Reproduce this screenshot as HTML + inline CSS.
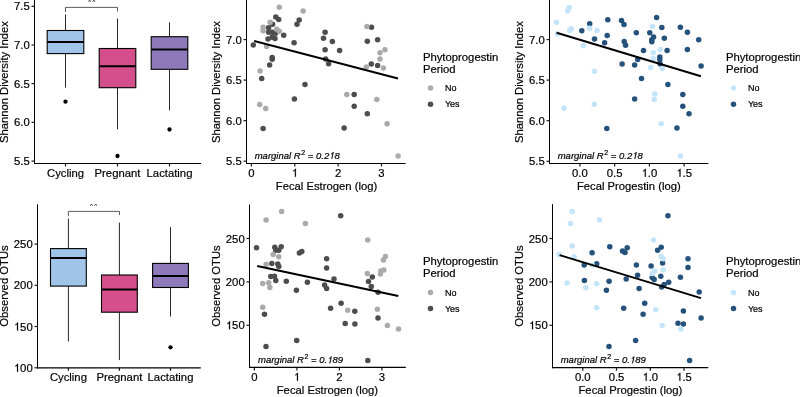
<!DOCTYPE html>
<html><head><meta charset="utf-8"><style>
html,body{margin:0;padding:0;background:#fff;width:800px;height:397px;overflow:hidden}
svg{display:block;font-family:"Liberation Sans", sans-serif}
svg{will-change:transform}
text{stroke:#000;stroke-width:0.2px;stroke-linejoin:round}
.o{fill-opacity:0;stroke-opacity:0}
</style></head><body>
<svg width="800" height="397" viewBox="0 0 800 397">
<rect width="800" height="397" fill="#fff"/>
<line x1="31.5" y1="6.3" x2="34.5" y2="6.3" stroke="#1a1a1a" stroke-width="1.2" />
<text x="29.7" y="10.35" font-size="11.3" text-anchor="end" fill="#000"  >7.5</text>
<line x1="31.5" y1="45.0" x2="34.5" y2="45.0" stroke="#1a1a1a" stroke-width="1.2" />
<text x="29.7" y="49.05" font-size="11.3" text-anchor="end" fill="#000"  >7.0</text>
<line x1="31.5" y1="83.6" x2="34.5" y2="83.6" stroke="#1a1a1a" stroke-width="1.2" />
<text x="29.7" y="87.64999999999999" font-size="11.3" text-anchor="end" fill="#000"  >6.5</text>
<line x1="31.5" y1="122.3" x2="34.5" y2="122.3" stroke="#1a1a1a" stroke-width="1.2" />
<text x="29.7" y="126.35" font-size="11.3" text-anchor="end" fill="#000"  >6.0</text>
<line x1="31.5" y1="161.1" x2="34.5" y2="161.1" stroke="#1a1a1a" stroke-width="1.2" />
<text x="29.7" y="165.15" font-size="11.3" text-anchor="end" fill="#000"  >5.5</text>
<line x1="65.5" y1="14.5" x2="65.5" y2="30.5" stroke="#262626" stroke-width="1" />
<line x1="65.5" y1="53.6" x2="65.5" y2="87.6" stroke="#262626" stroke-width="1" />
<rect x="47.2" y="30.5" width="36.6" height="23.1" fill="#a0c5e9" stroke="#000" stroke-width="1.1"/>
<line x1="47.2" y1="42.0" x2="83.8" y2="42.0" stroke="#000" stroke-width="2" />
<circle cx="65.5" cy="101.7" r="2.15" fill="#000"/>
<line x1="117.5" y1="18.5" x2="117.5" y2="48.5" stroke="#262626" stroke-width="1" />
<line x1="117.5" y1="87.7" x2="117.5" y2="129.3" stroke="#262626" stroke-width="1" />
<rect x="99.2" y="48.5" width="36.6" height="39.2" fill="#d54f8d" stroke="#000" stroke-width="1.1"/>
<line x1="99.2" y1="66.3" x2="135.8" y2="66.3" stroke="#000" stroke-width="2" />
<circle cx="117.5" cy="156.0" r="2.15" fill="#000"/>
<line x1="169.5" y1="22.4" x2="169.5" y2="36.7" stroke="#262626" stroke-width="1" />
<line x1="169.5" y1="69.3" x2="169.5" y2="110.4" stroke="#262626" stroke-width="1" />
<rect x="151.2" y="36.7" width="36.6" height="32.599999999999994" fill="#8e7abb" stroke="#000" stroke-width="1.1"/>
<line x1="151.2" y1="49.6" x2="187.8" y2="49.6" stroke="#000" stroke-width="2" />
<circle cx="169.5" cy="129.5" r="2.15" fill="#000"/>
<polyline points="65.5,12.0 65.5,7.4 117.5,7.4 117.5,11.5" fill="none" stroke="#333" stroke-width="0.8"/>
<line x1="65.5" y1="163.5" x2="65.5" y2="166.5" stroke="#1a1a1a" stroke-width="1.2" />
<line x1="117.5" y1="163.5" x2="117.5" y2="166.5" stroke="#1a1a1a" stroke-width="1.2" />
<line x1="169.5" y1="163.5" x2="169.5" y2="166.5" stroke="#1a1a1a" stroke-width="1.2" />
<text x="65.5" y="176.5" font-size="11.3" text-anchor="middle" fill="#000"  >Cycling</text>
<text x="117.5" y="176.5" font-size="11.3" text-anchor="middle" fill="#000"  >Pregnant</text>
<text x="169.5" y="176.5" font-size="11.3" text-anchor="middle" fill="#000"  >Lactating</text>
<line x1="34.5" y1="0" x2="34.5" y2="164.0" stroke="#000" stroke-width="1.05" />
<line x1="34.0" y1="163.5" x2="201.1" y2="163.5" stroke="#000" stroke-width="1.0" />
<text transform="translate(8.1,82.1) rotate(-90)" font-size="11.25" text-anchor="middle" fill="#000">Shannon Diversity Index</text>
<g clip-path="url(#clip0)"><text x="91.8" y="5.5" font-size="11" text-anchor="middle" fill="#3a3a3a" style="stroke:none">**</text></g>
<clipPath id="clip0"><rect x="0" y="0.0" width="800" height="200"/></clipPath>
<line x1="34.5" y1="367.8" x2="37.5" y2="367.8" stroke="#1a1a1a" stroke-width="1.2" />
<text x="32.7" y="371.85" font-size="11.3" text-anchor="end" fill="#000"  ><tspan class="o">1</tspan>00</text>
<line x1="34.5" y1="326.5" x2="37.5" y2="326.5" stroke="#1a1a1a" stroke-width="1.2" />
<text x="32.7" y="330.55" font-size="11.3" text-anchor="end" fill="#000"  ><tspan class="o">1</tspan>50</text>
<line x1="34.5" y1="285.3" x2="37.5" y2="285.3" stroke="#1a1a1a" stroke-width="1.2" />
<text x="32.7" y="289.35" font-size="11.3" text-anchor="end" fill="#000"  >200</text>
<line x1="34.5" y1="244.1" x2="37.5" y2="244.1" stroke="#1a1a1a" stroke-width="1.2" />
<text x="32.7" y="248.15" font-size="11.3" text-anchor="end" fill="#000"  >250</text>
<line x1="68.4" y1="218.4" x2="68.4" y2="248.6" stroke="#262626" stroke-width="1" />
<line x1="68.4" y1="286.1" x2="68.4" y2="341.5" stroke="#262626" stroke-width="1" />
<rect x="50.50000000000001" y="248.6" width="35.8" height="37.50000000000003" fill="#a0c5e9" stroke="#000" stroke-width="1.1"/>
<line x1="50.50000000000001" y1="257.9" x2="86.30000000000001" y2="257.9" stroke="#000" stroke-width="2" />
<line x1="119.4" y1="222.6" x2="119.4" y2="275.0" stroke="#262626" stroke-width="1" />
<line x1="119.4" y1="312.2" x2="119.4" y2="360.1" stroke="#262626" stroke-width="1" />
<rect x="101.5" y="275.0" width="35.8" height="37.19999999999999" fill="#d54f8d" stroke="#000" stroke-width="1.1"/>
<line x1="101.5" y1="289.6" x2="137.3" y2="289.6" stroke="#000" stroke-width="2" />
<line x1="170.5" y1="227.1" x2="170.5" y2="263.4" stroke="#262626" stroke-width="1" />
<line x1="170.5" y1="287.5" x2="170.5" y2="316.5" stroke="#262626" stroke-width="1" />
<rect x="152.6" y="263.4" width="35.8" height="24.100000000000023" fill="#8e7abb" stroke="#000" stroke-width="1.1"/>
<line x1="152.6" y1="276.0" x2="188.4" y2="276.0" stroke="#000" stroke-width="2" />
<circle cx="170.5" cy="347.3" r="2.15" fill="#000"/>
<polyline points="68.4,216.2 68.4,211.4 119.5,211.4 119.5,215.0" fill="none" stroke="#333" stroke-width="0.8"/>
<line x1="68.4" y1="367.8" x2="68.4" y2="370.8" stroke="#1a1a1a" stroke-width="1.2" />
<line x1="119.4" y1="367.8" x2="119.4" y2="370.8" stroke="#1a1a1a" stroke-width="1.2" />
<line x1="170.5" y1="367.8" x2="170.5" y2="370.8" stroke="#1a1a1a" stroke-width="1.2" />
<text x="68.4" y="380.6" font-size="11.3" text-anchor="middle" fill="#000"  >Cycling</text>
<text x="119.4" y="380.6" font-size="11.3" text-anchor="middle" fill="#000"  >Pregnant</text>
<text x="170.5" y="380.6" font-size="11.3" text-anchor="middle" fill="#000"  >Lactating</text>
<line x1="37.5" y1="204.4" x2="37.5" y2="368.3" stroke="#000" stroke-width="1.05" />
<line x1="37.0" y1="367.8" x2="200.8" y2="367.8" stroke="#000" stroke-width="1.2" />
<text transform="translate(8.1,286.0) rotate(-90)" font-size="11.25" text-anchor="middle" fill="#000">Observed OTUs</text>
<g clip-path="url(#clip204)"><text x="93.6" y="209.8" font-size="11" text-anchor="middle" fill="#3a3a3a" style="stroke:none">**</text></g>
<clipPath id="clip204"><rect x="0" y="204.0" width="800" height="200"/></clipPath>
<line x1="243.5" y1="39.6" x2="246.5" y2="39.6" stroke="#1a1a1a" stroke-width="1.2" />
<text x="241.7" y="43.65" font-size="11.3" text-anchor="end" fill="#000"  >7.0</text>
<line x1="243.5" y1="80.1" x2="246.5" y2="80.1" stroke="#1a1a1a" stroke-width="1.2" />
<text x="241.7" y="84.14999999999999" font-size="11.3" text-anchor="end" fill="#000"  >6.5</text>
<line x1="243.5" y1="120.7" x2="246.5" y2="120.7" stroke="#1a1a1a" stroke-width="1.2" />
<text x="241.7" y="124.75" font-size="11.3" text-anchor="end" fill="#000"  >6.0</text>
<line x1="243.5" y1="161.2" x2="246.5" y2="161.2" stroke="#1a1a1a" stroke-width="1.2" />
<text x="241.7" y="165.25" font-size="11.3" text-anchor="end" fill="#000"  >5.5</text>
<line x1="251.4" y1="163.5" x2="251.4" y2="166.5" stroke="#1a1a1a" stroke-width="1.2" />
<text x="251.4" y="176.8" font-size="11.3" text-anchor="middle" fill="#000"  >0</text>
<line x1="294.8" y1="163.5" x2="294.8" y2="166.5" stroke="#1a1a1a" stroke-width="1.2" />
<text x="294.8" y="176.8" font-size="11.3" text-anchor="middle" fill="#000"  ><tspan class="o">1</tspan></text>
<line x1="338.1" y1="163.5" x2="338.1" y2="166.5" stroke="#1a1a1a" stroke-width="1.2" />
<text x="338.1" y="176.8" font-size="11.3" text-anchor="middle" fill="#000"  >2</text>
<line x1="381.5" y1="163.5" x2="381.5" y2="166.5" stroke="#1a1a1a" stroke-width="1.2" />
<text x="381.5" y="176.8" font-size="11.3" text-anchor="middle" fill="#000"  >3</text>
<circle cx="275.8" cy="17.1" r="2.75" fill="#4d4d4d"/>
<circle cx="278.7" cy="19.6" r="2.75" fill="#4d4d4d"/>
<circle cx="272.6" cy="24.2" r="2.75" fill="#4d4d4d"/>
<circle cx="268.6" cy="27.7" r="2.75" fill="#4d4d4d"/>
<circle cx="268.6" cy="32.2" r="2.75" fill="#4d4d4d"/>
<circle cx="272.1" cy="32.2" r="2.75" fill="#4d4d4d"/>
<circle cx="275.6" cy="33.2" r="2.75" fill="#4d4d4d"/>
<circle cx="283.7" cy="35.3" r="2.75" fill="#4d4d4d"/>
<circle cx="297" cy="24.2" r="2.75" fill="#4d4d4d"/>
<circle cx="299.2" cy="20.1" r="2.75" fill="#4d4d4d"/>
<circle cx="268" cy="39" r="2.75" fill="#4d4d4d"/>
<circle cx="272" cy="37.3" r="2.75" fill="#4d4d4d"/>
<circle cx="275" cy="38.6" r="2.75" fill="#4d4d4d"/>
<circle cx="294.1" cy="42.8" r="2.75" fill="#4d4d4d"/>
<circle cx="253.3" cy="45" r="2.75" fill="#4d4d4d"/>
<circle cx="272.2" cy="57.4" r="2.75" fill="#4d4d4d"/>
<circle cx="272.2" cy="59.2" r="2.75" fill="#4d4d4d"/>
<circle cx="269.6" cy="65.1" r="2.75" fill="#4d4d4d"/>
<circle cx="261.7" cy="78.6" r="2.75" fill="#4d4d4d"/>
<circle cx="305" cy="84.4" r="2.75" fill="#4d4d4d"/>
<circle cx="294.4" cy="99.1" r="2.75" fill="#4d4d4d"/>
<circle cx="263.1" cy="128.4" r="2.75" fill="#4d4d4d"/>
<circle cx="325.1" cy="32.3" r="2.75" fill="#4d4d4d"/>
<circle cx="323.5" cy="38.2" r="2.75" fill="#4d4d4d"/>
<circle cx="332.4" cy="41.4" r="2.75" fill="#4d4d4d"/>
<circle cx="325.1" cy="49.8" r="2.75" fill="#4d4d4d"/>
<circle cx="339.6" cy="50.6" r="2.75" fill="#4d4d4d"/>
<circle cx="325.7" cy="59" r="2.75" fill="#4d4d4d"/>
<circle cx="328.6" cy="63.8" r="2.75" fill="#4d4d4d"/>
<circle cx="371.5" cy="27.2" r="2.75" fill="#4d4d4d"/>
<circle cx="367.3" cy="41.3" r="2.75" fill="#4d4d4d"/>
<circle cx="377.6" cy="39.7" r="2.75" fill="#4d4d4d"/>
<circle cx="371.3" cy="64.1" r="2.75" fill="#4d4d4d"/>
<circle cx="377.6" cy="65.5" r="2.75" fill="#4d4d4d"/>
<circle cx="354.2" cy="94.5" r="2.75" fill="#4d4d4d"/>
<circle cx="354.2" cy="106.2" r="2.75" fill="#4d4d4d"/>
<circle cx="367.3" cy="113.7" r="2.75" fill="#4d4d4d"/>
<circle cx="344.1" cy="128" r="2.75" fill="#4d4d4d"/>
<circle cx="279.2" cy="7.3" r="2.75" fill="#aaaaaa"/>
<circle cx="303.1" cy="10.9" r="2.75" fill="#aaaaaa"/>
<circle cx="270.1" cy="22.2" r="2.75" fill="#aaaaaa"/>
<circle cx="263.1" cy="27.2" r="2.75" fill="#aaaaaa"/>
<circle cx="263.1" cy="30.7" r="2.75" fill="#aaaaaa"/>
<circle cx="276.7" cy="29.2" r="2.75" fill="#aaaaaa"/>
<circle cx="279.2" cy="31.2" r="2.75" fill="#aaaaaa"/>
<circle cx="266.7" cy="46.5" r="2.75" fill="#aaaaaa"/>
<circle cx="260.1" cy="71.1" r="2.75" fill="#aaaaaa"/>
<circle cx="259.7" cy="104.4" r="2.75" fill="#aaaaaa"/>
<circle cx="265.7" cy="108.4" r="2.75" fill="#aaaaaa"/>
<circle cx="366.9" cy="26.6" r="2.75" fill="#aaaaaa"/>
<circle cx="385" cy="49.8" r="2.75" fill="#aaaaaa"/>
<circle cx="380" cy="52.8" r="2.75" fill="#aaaaaa"/>
<circle cx="380" cy="59" r="2.75" fill="#aaaaaa"/>
<circle cx="383.4" cy="68.1" r="2.75" fill="#aaaaaa"/>
<circle cx="366.3" cy="66.9" r="2.75" fill="#aaaaaa"/>
<circle cx="346.8" cy="94.5" r="2.75" fill="#aaaaaa"/>
<circle cx="376.8" cy="99.5" r="2.75" fill="#aaaaaa"/>
<circle cx="387.1" cy="123.7" r="2.75" fill="#aaaaaa"/>
<circle cx="398.1" cy="156" r="2.75" fill="#aaaaaa"/>
<line x1="254.1" y1="41.0" x2="398.0" y2="78.5" stroke="#000" stroke-width="2.0" stroke-linecap="butt"/>
<line x1="246.5" y1="0" x2="246.5" y2="164.0" stroke="#000" stroke-width="1.05" />
<line x1="246.0" y1="163.5" x2="405.6" y2="163.5" stroke="#000" stroke-width="1.0" />
<text transform="translate(220.3,82.1) rotate(-90)" font-size="11.25" text-anchor="middle" fill="#000">Shannon Diversity Index</text>
<text x="326.5" y="190.3" font-size="11.25" text-anchor="middle" fill="#000"  >Fecal Estrogen (log)</text>
<text x="254.7" y="158.7" font-size="9.5" font-style="italic" fill="#000">marginal R<tspan dx="0.6" dy="-4.2" font-size="7" font-style="normal">2</tspan><tspan dy="4.2"> = 0.2<tspan class="o">1</tspan>8</tspan></text>
<text x="422.9" y="60.6" font-size="11.3" text-anchor="start" fill="#000"  >Phytoprogestin</text>
<text x="422.9" y="72.6" font-size="11.3" text-anchor="start" fill="#000"  >Period</text>
<circle cx="430.5" cy="88.1" r="2.75" fill="#aaaaaa"/>
<circle cx="430.5" cy="104.30000000000001" r="2.75" fill="#4d4d4d"/>
<text x="444.9" y="91.2" font-size="9.0" text-anchor="start" fill="#000"  >No</text>
<text x="444.9" y="107.2" font-size="9.0" text-anchor="start" fill="#000"  >Yes</text>
<line x1="546.5" y1="39.6" x2="549.5" y2="39.6" stroke="#1a1a1a" stroke-width="1.2" />
<text x="544.7" y="43.65" font-size="11.3" text-anchor="end" fill="#000"  >7.0</text>
<line x1="546.5" y1="80.1" x2="549.5" y2="80.1" stroke="#1a1a1a" stroke-width="1.2" />
<text x="544.7" y="84.14999999999999" font-size="11.3" text-anchor="end" fill="#000"  >6.5</text>
<line x1="546.5" y1="120.7" x2="549.5" y2="120.7" stroke="#1a1a1a" stroke-width="1.2" />
<text x="544.7" y="124.75" font-size="11.3" text-anchor="end" fill="#000"  >6.0</text>
<line x1="546.5" y1="161.3" x2="549.5" y2="161.3" stroke="#1a1a1a" stroke-width="1.2" />
<text x="544.7" y="165.35000000000002" font-size="11.3" text-anchor="end" fill="#000"  >5.5</text>
<line x1="579.9" y1="163.5" x2="579.9" y2="166.5" stroke="#1a1a1a" stroke-width="1.2" />
<text x="579.9" y="176.8" font-size="11.3" text-anchor="middle" fill="#000"  >0.0</text>
<line x1="614.65" y1="163.5" x2="614.65" y2="166.5" stroke="#1a1a1a" stroke-width="1.2" />
<text x="614.65" y="176.8" font-size="11.3" text-anchor="middle" fill="#000"  >0.5</text>
<line x1="649.4" y1="163.5" x2="649.4" y2="166.5" stroke="#1a1a1a" stroke-width="1.2" />
<text x="649.4" y="176.8" font-size="11.3" text-anchor="middle" fill="#000"  ><tspan class="o">1</tspan>.0</text>
<line x1="684.15" y1="163.5" x2="684.15" y2="166.5" stroke="#1a1a1a" stroke-width="1.2" />
<text x="684.15" y="176.8" font-size="11.3" text-anchor="middle" fill="#000"  ><tspan class="o">1</tspan>.5</text>
<circle cx="581.8" cy="30.8" r="2.75" fill="#25527c"/>
<circle cx="589.7" cy="23.8" r="2.75" fill="#25527c"/>
<circle cx="607.8" cy="19.7" r="2.75" fill="#25527c"/>
<circle cx="621.5" cy="20.6" r="2.75" fill="#25527c"/>
<circle cx="624" cy="24.6" r="2.75" fill="#25527c"/>
<circle cx="594.5" cy="38.9" r="2.75" fill="#25527c"/>
<circle cx="607.2" cy="35.5" r="2.75" fill="#25527c"/>
<circle cx="604.6" cy="42.7" r="2.75" fill="#25527c"/>
<circle cx="624.2" cy="41.5" r="2.75" fill="#25527c"/>
<circle cx="625.6" cy="45.3" r="2.75" fill="#25527c"/>
<circle cx="622.1" cy="63.9" r="2.75" fill="#25527c"/>
<circle cx="656.6" cy="17.5" r="2.75" fill="#25527c"/>
<circle cx="661.8" cy="27.6" r="2.75" fill="#25527c"/>
<circle cx="680.4" cy="27.2" r="2.75" fill="#25527c"/>
<circle cx="687.4" cy="32.2" r="2.75" fill="#25527c"/>
<circle cx="636.3" cy="32.8" r="2.75" fill="#25527c"/>
<circle cx="649.8" cy="32.8" r="2.75" fill="#25527c"/>
<circle cx="653.6" cy="36.9" r="2.75" fill="#25527c"/>
<circle cx="651.8" cy="39.7" r="2.75" fill="#25527c"/>
<circle cx="651.8" cy="41.7" r="2.75" fill="#25527c"/>
<circle cx="664.3" cy="38.3" r="2.75" fill="#25527c"/>
<circle cx="698.7" cy="39.7" r="2.75" fill="#25527c"/>
<circle cx="643.5" cy="50.4" r="2.75" fill="#25527c"/>
<circle cx="667.1" cy="50.6" r="2.75" fill="#25527c"/>
<circle cx="687.4" cy="49.6" r="2.75" fill="#25527c"/>
<circle cx="659.8" cy="57" r="2.75" fill="#25527c"/>
<circle cx="659.8" cy="59.8" r="2.75" fill="#25527c"/>
<circle cx="660.2" cy="64.1" r="2.75" fill="#25527c"/>
<circle cx="637.7" cy="59.4" r="2.75" fill="#25527c"/>
<circle cx="634.6" cy="65.1" r="2.75" fill="#25527c"/>
<circle cx="701.1" cy="65.9" r="2.75" fill="#25527c"/>
<circle cx="641.5" cy="78.6" r="2.75" fill="#25527c"/>
<circle cx="606.8" cy="128.4" r="2.75" fill="#25527c"/>
<circle cx="667.9" cy="84.6" r="2.75" fill="#25527c"/>
<circle cx="634.6" cy="99.1" r="2.75" fill="#25527c"/>
<circle cx="682.8" cy="94.5" r="2.75" fill="#25527c"/>
<circle cx="682.8" cy="106.2" r="2.75" fill="#25527c"/>
<circle cx="689" cy="113.7" r="2.75" fill="#25527c"/>
<circle cx="677" cy="128" r="2.75" fill="#25527c"/>
<circle cx="569.2" cy="7.5" r="2.75" fill="#c4e4f9"/>
<circle cx="567.7" cy="11.1" r="2.75" fill="#c4e4f9"/>
<circle cx="556.5" cy="22.2" r="2.75" fill="#c4e4f9"/>
<circle cx="557.5" cy="33.9" r="2.75" fill="#c4e4f9"/>
<circle cx="569.8" cy="30.6" r="2.75" fill="#c4e4f9"/>
<circle cx="571.2" cy="28.8" r="2.75" fill="#c4e4f9"/>
<circle cx="589.7" cy="28.2" r="2.75" fill="#c4e4f9"/>
<circle cx="597" cy="30.6" r="2.75" fill="#c4e4f9"/>
<circle cx="583.3" cy="45.5" r="2.75" fill="#c4e4f9"/>
<circle cx="594.5" cy="71.3" r="2.75" fill="#c4e4f9"/>
<circle cx="652.6" cy="26.6" r="2.75" fill="#c4e4f9"/>
<circle cx="660.2" cy="49.6" r="2.75" fill="#c4e4f9"/>
<circle cx="653.2" cy="52.8" r="2.75" fill="#c4e4f9"/>
<circle cx="653.2" cy="58.8" r="2.75" fill="#c4e4f9"/>
<circle cx="650.6" cy="67.5" r="2.75" fill="#c4e4f9"/>
<circle cx="662.2" cy="68.5" r="2.75" fill="#c4e4f9"/>
<circle cx="564.1" cy="108.2" r="2.75" fill="#c4e4f9"/>
<circle cx="594.3" cy="104.2" r="2.75" fill="#c4e4f9"/>
<circle cx="654.8" cy="94.1" r="2.75" fill="#c4e4f9"/>
<circle cx="654.2" cy="99.5" r="2.75" fill="#c4e4f9"/>
<circle cx="661.2" cy="123.7" r="2.75" fill="#c4e4f9"/>
<circle cx="680.4" cy="156" r="2.75" fill="#c4e4f9"/>
<line x1="556.6" y1="32.8" x2="700.9" y2="76.3" stroke="#000" stroke-width="2.0" stroke-linecap="butt"/>
<line x1="549.5" y1="0" x2="549.5" y2="164.0" stroke="#000" stroke-width="1.05" />
<line x1="549.0" y1="163.5" x2="708.4" y2="163.5" stroke="#000" stroke-width="1.0" />
<text transform="translate(523.1,82.1) rotate(-90)" font-size="11.25" text-anchor="middle" fill="#000">Shannon Diversity Index</text>
<text x="628.8" y="190.3" font-size="11.25" text-anchor="middle" fill="#000"  >Fecal Progestin (log)</text>
<text x="557.7" y="158.7" font-size="9.5" font-style="italic" fill="#000">marginal R<tspan dx="0.6" dy="-4.2" font-size="7" font-style="normal">2</tspan><tspan dy="4.2"> = 0.2<tspan class="o">1</tspan>8</tspan></text>
<text x="725.9" y="60.6" font-size="11.3" text-anchor="start" fill="#000"  >Phytoprogestin</text>
<text x="725.9" y="72.6" font-size="11.3" text-anchor="start" fill="#000"  >Period</text>
<circle cx="733.5" cy="88.1" r="2.75" fill="#c4e4f9"/>
<circle cx="733.5" cy="104.30000000000001" r="2.75" fill="#25527c"/>
<text x="747.9" y="91.2" font-size="9.0" text-anchor="start" fill="#000"  >No</text>
<text x="747.9" y="107.2" font-size="9.0" text-anchor="start" fill="#000"  >Yes</text>
<line x1="246.5" y1="238.5" x2="249.5" y2="238.5" stroke="#1a1a1a" stroke-width="1.2" />
<text x="244.7" y="242.55" font-size="11.3" text-anchor="end" fill="#000"  >250</text>
<line x1="246.5" y1="281.9" x2="249.5" y2="281.9" stroke="#1a1a1a" stroke-width="1.2" />
<text x="244.7" y="285.95" font-size="11.3" text-anchor="end" fill="#000"  >200</text>
<line x1="246.5" y1="325.3" x2="249.5" y2="325.3" stroke="#1a1a1a" stroke-width="1.2" />
<text x="244.7" y="329.35" font-size="11.3" text-anchor="end" fill="#000"  ><tspan class="o">1</tspan>50</text>
<line x1="254.4" y1="367.4" x2="254.4" y2="370.4" stroke="#1a1a1a" stroke-width="1.2" />
<text x="254.4" y="380.8" font-size="11.3" text-anchor="middle" fill="#000"  >0</text>
<line x1="296.9" y1="367.4" x2="296.9" y2="370.4" stroke="#1a1a1a" stroke-width="1.2" />
<text x="296.9" y="380.8" font-size="11.3" text-anchor="middle" fill="#000"  ><tspan class="o">1</tspan></text>
<line x1="339.4" y1="367.4" x2="339.4" y2="370.4" stroke="#1a1a1a" stroke-width="1.2" />
<text x="339.4" y="380.8" font-size="11.3" text-anchor="middle" fill="#000"  >2</text>
<line x1="381.9" y1="367.4" x2="381.9" y2="370.4" stroke="#1a1a1a" stroke-width="1.2" />
<text x="381.9" y="380.8" font-size="11.3" text-anchor="middle" fill="#000"  >3</text>
<circle cx="256.5" cy="247.7" r="2.75" fill="#4d4d4d"/>
<circle cx="274.8" cy="247.3" r="2.75" fill="#4d4d4d"/>
<circle cx="281.2" cy="246.7" r="2.75" fill="#4d4d4d"/>
<circle cx="275.8" cy="250.3" r="2.75" fill="#4d4d4d"/>
<circle cx="278.8" cy="250.3" r="2.75" fill="#4d4d4d"/>
<circle cx="299.4" cy="253" r="2.75" fill="#4d4d4d"/>
<circle cx="301.8" cy="251.4" r="2.75" fill="#4d4d4d"/>
<circle cx="326.6" cy="258.8" r="2.75" fill="#4d4d4d"/>
<circle cx="326.6" cy="267.9" r="2.75" fill="#4d4d4d"/>
<circle cx="271.8" cy="263.4" r="2.75" fill="#4d4d4d"/>
<circle cx="277.8" cy="264.1" r="2.75" fill="#4d4d4d"/>
<circle cx="278.8" cy="266.5" r="2.75" fill="#4d4d4d"/>
<circle cx="270.8" cy="276.5" r="2.75" fill="#4d4d4d"/>
<circle cx="274.5" cy="276.2" r="2.75" fill="#4d4d4d"/>
<circle cx="275.8" cy="280.5" r="2.75" fill="#4d4d4d"/>
<circle cx="286.3" cy="281.3" r="2.75" fill="#4d4d4d"/>
<circle cx="307.4" cy="282.2" r="2.75" fill="#4d4d4d"/>
<circle cx="296.4" cy="290.2" r="2.75" fill="#4d4d4d"/>
<circle cx="324.6" cy="285.1" r="2.75" fill="#4d4d4d"/>
<circle cx="326.6" cy="288.5" r="2.75" fill="#4d4d4d"/>
<circle cx="264.5" cy="314.3" r="2.75" fill="#4d4d4d"/>
<circle cx="330.6" cy="308.3" r="2.75" fill="#4d4d4d"/>
<circle cx="296.7" cy="340.5" r="2.75" fill="#4d4d4d"/>
<circle cx="266" cy="346.5" r="2.75" fill="#4d4d4d"/>
<circle cx="340.7" cy="215.7" r="2.75" fill="#4d4d4d"/>
<circle cx="372.3" cy="277" r="2.75" fill="#4d4d4d"/>
<circle cx="368.5" cy="281.4" r="2.75" fill="#4d4d4d"/>
<circle cx="371.3" cy="286.5" r="2.75" fill="#4d4d4d"/>
<circle cx="378" cy="292.2" r="2.75" fill="#4d4d4d"/>
<circle cx="334" cy="279" r="2.75" fill="#4d4d4d"/>
<circle cx="341.1" cy="303.2" r="2.75" fill="#4d4d4d"/>
<circle cx="354.8" cy="311.3" r="2.75" fill="#4d4d4d"/>
<circle cx="345.2" cy="323.4" r="2.75" fill="#4d4d4d"/>
<circle cx="354.9" cy="324" r="2.75" fill="#4d4d4d"/>
<circle cx="378" cy="318" r="2.75" fill="#4d4d4d"/>
<circle cx="367.8" cy="360.4" r="2.75" fill="#4d4d4d"/>
<circle cx="281.6" cy="211.5" r="2.75" fill="#aaaaaa"/>
<circle cx="266.1" cy="219.9" r="2.75" fill="#aaaaaa"/>
<circle cx="305.4" cy="223.5" r="2.75" fill="#aaaaaa"/>
<circle cx="273.2" cy="254.4" r="2.75" fill="#aaaaaa"/>
<circle cx="278.8" cy="256.8" r="2.75" fill="#aaaaaa"/>
<circle cx="266.1" cy="264.5" r="2.75" fill="#aaaaaa"/>
<circle cx="262.7" cy="283.5" r="2.75" fill="#aaaaaa"/>
<circle cx="268.7" cy="282.8" r="2.75" fill="#aaaaaa"/>
<circle cx="269.8" cy="287.5" r="2.75" fill="#aaaaaa"/>
<circle cx="262.7" cy="307.3" r="2.75" fill="#aaaaaa"/>
<circle cx="367.7" cy="239.9" r="2.75" fill="#aaaaaa"/>
<circle cx="385.4" cy="256.4" r="2.75" fill="#aaaaaa"/>
<circle cx="383.4" cy="260" r="2.75" fill="#aaaaaa"/>
<circle cx="383.8" cy="269.9" r="2.75" fill="#aaaaaa"/>
<circle cx="380.8" cy="271.1" r="2.75" fill="#aaaaaa"/>
<circle cx="380.4" cy="273.9" r="2.75" fill="#aaaaaa"/>
<circle cx="367.3" cy="273.5" r="2.75" fill="#aaaaaa"/>
<circle cx="347.7" cy="310.3" r="2.75" fill="#aaaaaa"/>
<circle cx="377.4" cy="309.3" r="2.75" fill="#aaaaaa"/>
<circle cx="387.4" cy="325.5" r="2.75" fill="#aaaaaa"/>
<circle cx="398.5" cy="329" r="2.75" fill="#aaaaaa"/>
<line x1="257.1" y1="265.9" x2="398.3" y2="296.0" stroke="#000" stroke-width="2.0" stroke-linecap="butt"/>
<line x1="249.5" y1="204.5" x2="249.5" y2="367.9" stroke="#000" stroke-width="1.05" />
<line x1="249.0" y1="367.4" x2="405.8" y2="367.4" stroke="#000" stroke-width="1.2" />
<text transform="translate(220.4,286.0) rotate(-90)" font-size="11.25" text-anchor="middle" fill="#000">Observed OTUs</text>
<text x="327.4" y="394.0" font-size="11.25" text-anchor="middle" fill="#000"  >Fecal Estrogen (log)</text>
<text x="258.0" y="363.2" font-size="9.5" font-style="italic" fill="#000">marginal R<tspan dx="0.6" dy="-4.2" font-size="7" font-style="normal">2</tspan><tspan dy="4.2"> = 0.<tspan class="o">1</tspan>89</tspan></text>
<text x="422.9" y="264.9" font-size="11.3" text-anchor="start" fill="#000"  >Phytoprogestin</text>
<text x="422.9" y="276.9" font-size="11.3" text-anchor="start" fill="#000"  >Period</text>
<circle cx="430.5" cy="292.4" r="2.75" fill="#aaaaaa"/>
<circle cx="430.5" cy="308.59999999999997" r="2.75" fill="#4d4d4d"/>
<text x="444.9" y="295.5" font-size="9.0" text-anchor="start" fill="#000"  >No</text>
<text x="444.9" y="311.5" font-size="9.0" text-anchor="start" fill="#000"  >Yes</text>
<line x1="549.5" y1="238.5" x2="552.5" y2="238.5" stroke="#1a1a1a" stroke-width="1.2" />
<text x="547.7" y="242.55" font-size="11.3" text-anchor="end" fill="#000"  >250</text>
<line x1="549.5" y1="281.9" x2="552.5" y2="281.9" stroke="#1a1a1a" stroke-width="1.2" />
<text x="547.7" y="285.95" font-size="11.3" text-anchor="end" fill="#000"  >200</text>
<line x1="549.5" y1="325.3" x2="552.5" y2="325.3" stroke="#1a1a1a" stroke-width="1.2" />
<text x="547.7" y="329.35" font-size="11.3" text-anchor="end" fill="#000"  ><tspan class="o">1</tspan>50</text>
<line x1="582.8" y1="367.7" x2="582.8" y2="370.7" stroke="#1a1a1a" stroke-width="1.2" />
<text x="582.8" y="380.8" font-size="11.3" text-anchor="middle" fill="#000"  >0.0</text>
<line x1="616.5" y1="367.7" x2="616.5" y2="370.7" stroke="#1a1a1a" stroke-width="1.2" />
<text x="616.5" y="380.8" font-size="11.3" text-anchor="middle" fill="#000"  >0.5</text>
<line x1="650.3" y1="367.7" x2="650.3" y2="370.7" stroke="#1a1a1a" stroke-width="1.2" />
<text x="650.3" y="380.8" font-size="11.3" text-anchor="middle" fill="#000"  ><tspan class="o">1</tspan>.0</text>
<line x1="684.0" y1="367.7" x2="684.0" y2="370.7" stroke="#1a1a1a" stroke-width="1.2" />
<text x="684.0" y="380.8" font-size="11.3" text-anchor="middle" fill="#000"  ><tspan class="o">1</tspan>.5</text>
<circle cx="584.2" cy="265.1" r="2.75" fill="#25527c"/>
<circle cx="596.7" cy="263.8" r="2.75" fill="#25527c"/>
<circle cx="592.1" cy="252.8" r="2.75" fill="#25527c"/>
<circle cx="609.8" cy="246.7" r="2.75" fill="#25527c"/>
<circle cx="622.5" cy="251" r="2.75" fill="#25527c"/>
<circle cx="625" cy="252.4" r="2.75" fill="#25527c"/>
<circle cx="627.2" cy="247.7" r="2.75" fill="#25527c"/>
<circle cx="584.4" cy="280.5" r="2.75" fill="#25527c"/>
<circle cx="609.1" cy="281.3" r="2.75" fill="#25527c"/>
<circle cx="626.2" cy="279" r="2.75" fill="#25527c"/>
<circle cx="606.4" cy="290.2" r="2.75" fill="#25527c"/>
<circle cx="623.7" cy="308.3" r="2.75" fill="#25527c"/>
<circle cx="609" cy="346.5" r="2.75" fill="#25527c"/>
<circle cx="667.9" cy="215.7" r="2.75" fill="#25527c"/>
<circle cx="661.2" cy="247.3" r="2.75" fill="#25527c"/>
<circle cx="657.6" cy="250.3" r="2.75" fill="#25527c"/>
<circle cx="662.6" cy="263" r="2.75" fill="#25527c"/>
<circle cx="688" cy="258.8" r="2.75" fill="#25527c"/>
<circle cx="688" cy="267.5" r="2.75" fill="#25527c"/>
<circle cx="636.4" cy="264.9" r="2.75" fill="#25527c"/>
<circle cx="651.1" cy="265.9" r="2.75" fill="#25527c"/>
<circle cx="637.6" cy="275.2" r="2.75" fill="#25527c"/>
<circle cx="660.8" cy="276.2" r="2.75" fill="#25527c"/>
<circle cx="680.4" cy="277.2" r="2.75" fill="#25527c"/>
<circle cx="654.2" cy="279.6" r="2.75" fill="#25527c"/>
<circle cx="668.7" cy="282.2" r="2.75" fill="#25527c"/>
<circle cx="652.2" cy="277.5" r="2.75" fill="#25527c"/>
<circle cx="664.2" cy="284.5" r="2.75" fill="#25527c"/>
<circle cx="661.6" cy="287.1" r="2.75" fill="#25527c"/>
<circle cx="639.1" cy="288.5" r="2.75" fill="#25527c"/>
<circle cx="699.2" cy="292.1" r="2.75" fill="#25527c"/>
<circle cx="644.7" cy="303.2" r="2.75" fill="#25527c"/>
<circle cx="643.1" cy="314.3" r="2.75" fill="#25527c"/>
<circle cx="683.4" cy="310.9" r="2.75" fill="#25527c"/>
<circle cx="701.1" cy="318" r="2.75" fill="#25527c"/>
<circle cx="678" cy="323.2" r="2.75" fill="#25527c"/>
<circle cx="683.4" cy="324" r="2.75" fill="#25527c"/>
<circle cx="635.6" cy="340.5" r="2.75" fill="#25527c"/>
<circle cx="689.6" cy="360.4" r="2.75" fill="#25527c"/>
<circle cx="572.2" cy="211.5" r="2.75" fill="#c4e4f9"/>
<circle cx="570.5" cy="223.5" r="2.75" fill="#c4e4f9"/>
<circle cx="599.4" cy="219.7" r="2.75" fill="#c4e4f9"/>
<circle cx="572.2" cy="245.9" r="2.75" fill="#c4e4f9"/>
<circle cx="559.2" cy="254.5" r="2.75" fill="#c4e4f9"/>
<circle cx="574.2" cy="256.8" r="2.75" fill="#c4e4f9"/>
<circle cx="592.3" cy="265.1" r="2.75" fill="#c4e4f9"/>
<circle cx="567.1" cy="283" r="2.75" fill="#c4e4f9"/>
<circle cx="585.9" cy="287.7" r="2.75" fill="#c4e4f9"/>
<circle cx="596.7" cy="283.8" r="2.75" fill="#c4e4f9"/>
<circle cx="596.7" cy="307.7" r="2.75" fill="#c4e4f9"/>
<circle cx="653.6" cy="239.9" r="2.75" fill="#c4e4f9"/>
<circle cx="661.2" cy="256.4" r="2.75" fill="#c4e4f9"/>
<circle cx="663.2" cy="258.8" r="2.75" fill="#c4e4f9"/>
<circle cx="663.2" cy="269.9" r="2.75" fill="#c4e4f9"/>
<circle cx="654.6" cy="270.9" r="2.75" fill="#c4e4f9"/>
<circle cx="652.2" cy="273.5" r="2.75" fill="#c4e4f9"/>
<circle cx="655.8" cy="309.7" r="2.75" fill="#c4e4f9"/>
<circle cx="662.2" cy="325.5" r="2.75" fill="#c4e4f9"/>
<circle cx="680.8" cy="329" r="2.75" fill="#c4e4f9"/>
<line x1="559.6" y1="255.1" x2="701.0" y2="298.1" stroke="#000" stroke-width="2.0" stroke-linecap="butt"/>
<line x1="552.5" y1="204.2" x2="552.5" y2="368.2" stroke="#000" stroke-width="1.05" />
<line x1="552.0" y1="367.7" x2="708.3" y2="367.7" stroke="#000" stroke-width="1.2" />
<text transform="translate(523.1,286.0) rotate(-90)" font-size="11.25" text-anchor="middle" fill="#000">Observed OTUs</text>
<text x="630.4" y="394.0" font-size="11.25" text-anchor="middle" fill="#000"  >Fecal Progestin (log)</text>
<text x="560.7" y="363.2" font-size="9.5" font-style="italic" fill="#000">marginal R<tspan dx="0.6" dy="-4.2" font-size="7" font-style="normal">2</tspan><tspan dy="4.2"> = 0.<tspan class="o">1</tspan>89</tspan></text>
<text x="725.9" y="264.9" font-size="11.3" text-anchor="start" fill="#000"  >Phytoprogestin</text>
<text x="725.9" y="276.9" font-size="11.3" text-anchor="start" fill="#000"  >Period</text>
<circle cx="733.5" cy="292.4" r="2.75" fill="#c4e4f9"/>
<circle cx="733.5" cy="308.59999999999997" r="2.75" fill="#25527c"/>
<text x="747.9" y="295.5" font-size="9.0" text-anchor="start" fill="#000"  >No</text>
<text x="747.9" y="311.5" font-size="9.0" text-anchor="start" fill="#000"  >Yes</text>
<path d="M763 0L583 0L583 1120C530 1070 450 1020 290 955L290 1130C390 1180 470 1240 530 1300C580 1350 620 1400 645 1450L763 1450Z" transform="translate(13.825,371.850) scale(0.005518,-0.005518)" fill="#000" stroke="#000" stroke-width="36.25" stroke-linejoin="round"/>
<path d="M763 0L583 0L583 1120C530 1070 450 1020 290 955L290 1130C390 1180 470 1240 530 1300C580 1350 620 1400 645 1450L763 1450Z" transform="translate(13.825,330.550) scale(0.005518,-0.005518)" fill="#000" stroke="#000" stroke-width="36.25" stroke-linejoin="round"/>
<path d="M763 0L583 0L583 1120C530 1070 450 1020 290 955L290 1130C390 1180 470 1240 530 1300C580 1350 620 1400 645 1450L763 1450Z" transform="translate(291.652,176.800) scale(0.005518,-0.005518)" fill="#000" stroke="#000" stroke-width="36.25" stroke-linejoin="round"/>
<path d="M763 0L583 0L583 1120C530 1070 450 1020 290 955L290 1130C390 1180 470 1240 530 1300C580 1350 620 1400 645 1450L763 1450Z" transform="translate(329.191,158.700) skewX(-12) scale(0.004639,-0.004639) translate(-95,0)" fill="#000" stroke="#000" stroke-width="43.12" stroke-linejoin="round"/>
<path d="M763 0L583 0L583 1120C530 1070 450 1020 290 955L290 1130C390 1180 470 1240 530 1300C580 1350 620 1400 645 1450L763 1450Z" transform="translate(641.541,176.800) scale(0.005518,-0.005518)" fill="#000" stroke="#000" stroke-width="36.25" stroke-linejoin="round"/>
<path d="M763 0L583 0L583 1120C530 1070 450 1020 290 955L290 1130C390 1180 470 1240 530 1300C580 1350 620 1400 645 1450L763 1450Z" transform="translate(676.291,176.800) scale(0.005518,-0.005518)" fill="#000" stroke="#000" stroke-width="36.25" stroke-linejoin="round"/>
<path d="M763 0L583 0L583 1120C530 1070 450 1020 290 955L290 1130C390 1180 470 1240 530 1300C580 1350 620 1400 645 1450L763 1450Z" transform="translate(632.191,158.700) skewX(-12) scale(0.004639,-0.004639) translate(-95,0)" fill="#000" stroke="#000" stroke-width="43.12" stroke-linejoin="round"/>
<path d="M763 0L583 0L583 1120C530 1070 450 1020 290 955L290 1130C390 1180 470 1240 530 1300C580 1350 620 1400 645 1450L763 1450Z" transform="translate(225.825,329.350) scale(0.005518,-0.005518)" fill="#000" stroke="#000" stroke-width="36.25" stroke-linejoin="round"/>
<path d="M763 0L583 0L583 1120C530 1070 450 1020 290 955L290 1130C390 1180 470 1240 530 1300C580 1350 620 1400 645 1450L763 1450Z" transform="translate(293.752,380.800) scale(0.005518,-0.005518)" fill="#000" stroke="#000" stroke-width="36.25" stroke-linejoin="round"/>
<path d="M763 0L583 0L583 1120C530 1070 450 1020 290 955L290 1130C390 1180 470 1240 530 1300C580 1350 620 1400 645 1450L763 1450Z" transform="translate(327.194,363.200) skewX(-12) scale(0.004639,-0.004639) translate(-95,0)" fill="#000" stroke="#000" stroke-width="43.12" stroke-linejoin="round"/>
<path d="M763 0L583 0L583 1120C530 1070 450 1020 290 955L290 1130C390 1180 470 1240 530 1300C580 1350 620 1400 645 1450L763 1450Z" transform="translate(528.825,329.350) scale(0.005518,-0.005518)" fill="#000" stroke="#000" stroke-width="36.25" stroke-linejoin="round"/>
<path d="M763 0L583 0L583 1120C530 1070 450 1020 290 955L290 1130C390 1180 470 1240 530 1300C580 1350 620 1400 645 1450L763 1450Z" transform="translate(642.441,380.800) scale(0.005518,-0.005518)" fill="#000" stroke="#000" stroke-width="36.25" stroke-linejoin="round"/>
<path d="M763 0L583 0L583 1120C530 1070 450 1020 290 955L290 1130C390 1180 470 1240 530 1300C580 1350 620 1400 645 1450L763 1450Z" transform="translate(676.141,380.800) scale(0.005518,-0.005518)" fill="#000" stroke="#000" stroke-width="36.25" stroke-linejoin="round"/>
<path d="M763 0L583 0L583 1120C530 1070 450 1020 290 955L290 1130C390 1180 470 1240 530 1300C580 1350 620 1400 645 1450L763 1450Z" transform="translate(629.894,363.200) skewX(-12) scale(0.004639,-0.004639) translate(-95,0)" fill="#000" stroke="#000" stroke-width="43.12" stroke-linejoin="round"/>
</svg>
</body></html>
